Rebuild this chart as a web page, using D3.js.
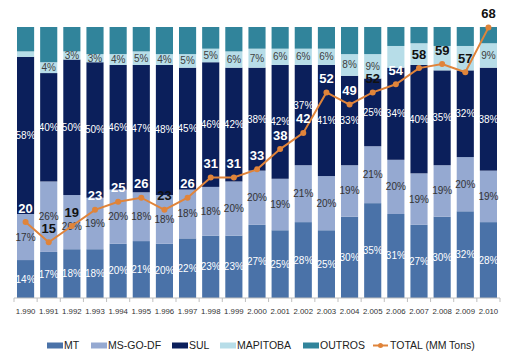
<!DOCTYPE html>
<html><head><meta charset="utf-8">
<script src="https://cdn.jsdelivr.net/npm/d3@7/dist/d3.min.js"></script>
<style>body{margin:0;background:#fff;}svg{display:block;font-family:"Liberation Sans",Arial,sans-serif;}</style>
</head><body><svg id="c" width="520" height="358"></svg>
<script>
const years = ["1.990","1.991","1.992","1.993","1.994","1.995","1.996","1.997","1.998","1.999","2.000","2.001","2.002","2.003","2.004","2.005","2.006","2.007","2.008","2.009","2.010"];
const MT       = [14,17,18,18,20,21,20,22,23,23,27,25,28,25,30,35,31,27,30,32,28];
const MSGODF   = [17,26,20,19,20,18,18,18,18,20,20,19,21,20,19,21,20,19,19,20,19];
const SUL      = [58,40,50,50,46,47,48,45,46,42,38,42,37,41,33,25,34,40,35,32,38];
const MAPITOBA = [2,4,3,3,4,5,4,5,5,6,7,6,6,6,8,9,8,8,9,9,9];
const OUTROS   = [9,13,9,10,10,9,10,10,8,9,8,8,8,8,10,10,7,6,7,7,6];
const TOTAL    = [20,15,19,23,25,26,23,26,31,31,33,38,42,52,49,52,54,58,59,57,68];
const hiddenMapitobaLabels = ["1.990","2.006","2.007","2.008","2.009"];
const seriesNames = ["MT","MS-GO-DF","SUL","MAPITOBA","OUTROS"];
const seriesData = [MT, MSGODF, SUL, MAPITOBA, OUTROS];
const colors = ["#4a72a8","#95a9d1","#0b1f5b","#b7dde8","#31849b"];
const labelColors = ["#ffffff","#333333","#ffffff","#404040",null];
const lineColor = "#e0843a";

const svg = d3.select("#c");
const x = d3.scaleBand().domain(years).range([14, 500]).paddingInner(0.26).paddingOuter(0.13);
const y = d3.scaleLinear().domain([0, 100]).range([298, 27]);
const y2 = d3.scaleLinear().domain([0, 70]).range([303, 19.5]);
const totalLabelY = v => y2(v) - 13;

const rows = years.map((yr, i) => {
  const r = {year: yr};
  seriesNames.forEach((s, k) => r[s] = seriesData[k][i]);
  return r;
});
const stack = d3.stack().keys(seriesNames)(rows);

// bars
stack.forEach((layer, k) => {
  svg.append("g").selectAll("rect").data(layer).join("rect")
    .attr("x", d => x(d.data.year))
    .attr("width", x.bandwidth())
    .attr("y", d => y(d[1]))
    .attr("height", d => y(d[0]) - y(d[1]))
    .attr("fill", colors[k]);
});

// percent labels (nudged away when they collide with the total label)
stack.forEach((layer, k) => {
  if (!labelColors[k]) return;
  svg.append("g").selectAll("text").data(layer.filter(d => !(seriesNames[k] === "MAPITOBA" && hiddenMapitobaLabels.includes(d.data.year))))
    .join("text")
    .attr("x", d => x(d.data.year) + x.bandwidth() / 2)
    .attr("y", d => {
      let ly = (y(d[0]) + y(d[1])) / 2;
      const t = totalLabelY(TOTAL[years.indexOf(d.data.year)]);
      if (seriesNames[k] === "SUL" && Math.abs(ly - t) < 12 && t < y(d[0]) && t > y(d[1])) ly = t - 14;
      if (seriesNames[k] === "MS-GO-DF" && Math.abs(ly - t) < 12) ly = t + 13.5;
      return ly;
    })
    .attr("dy", "0.35em")
    .attr("text-anchor", "middle")
    .attr("font-size", 10)
    .attr("fill", labelColors[k])
    .text(d => (d[1] - d[0]) + "%");
});

// x axis
const ax = svg.append("g").attr("transform", "translate(0,298)");
ax.append("line").attr("x1", 14).attr("x2", 500).attr("stroke", "#bfbfbf");
const bounds = d3.range(years.length + 1).map(i => 14 + i * x.step());
ax.selectAll("line.t").data(bounds).join("line").attr("class", "t")
  .attr("x1", d => d).attr("x2", d => d).attr("y1", 0).attr("y2", 4).attr("stroke", "#bfbfbf");
ax.selectAll("text").data(years).join("text")
  .attr("x", d => x(d) + x.bandwidth() / 2)
  .attr("y", 13)
  .attr("dy", "0.35em")
  .attr("text-anchor", "middle")
  .attr("font-size", 7.8)
  .attr("fill", "#333")
  .text(d => d);

// line
const line = d3.line().x((d, i) => x(years[i]) + x.bandwidth() / 2).y(d => y2(d));
svg.append("path").datum(TOTAL).attr("d", line).attr("fill", "none").attr("stroke", lineColor).attr("stroke-width", 2);
svg.append("g").selectAll("circle").data(TOTAL).join("circle")
  .attr("cx", (d, i) => x(years[i]) + x.bandwidth() / 2)
  .attr("cy", d => y2(d)).attr("r", 3).attr("fill", lineColor);

// total labels: white when over SUL segment
const sulLayer = stack[2];
svg.append("g").selectAll("text").data(TOTAL).join("text")
  .attr("x", (d, i) => x(years[i]) + x.bandwidth() / 2)
  .attr("y", d => totalLabelY(d) - 1)
  .attr("dy", "0.35em")
  .attr("text-anchor", "middle")
  .attr("font-size", 13)
  .attr("font-weight", "bold")
  .attr("fill", (d, i) => {
    const ly = totalLabelY(d);
    const s = sulLayer[i];
    return (ly > y(s[1]) + 3 && ly < y(s[0])) ? "#ffffff" : "#111111";
  })
  .text(d => d);

// legend
const legendItems = seriesNames.concat(["TOTAL (MM Tons)"]);
const legendX = [47, 91, 172, 220, 303, 373];
const lg = svg.append("g").attr("transform", "translate(0,345.5)");
legendItems.forEach((name, k) => {
  const g = lg.append("g").attr("transform", `translate(${legendX[k]},0)`);
  if (k < 5) {
    g.append("rect").attr("x", 0).attr("y", -3).attr("width", 16).attr("height", 6).attr("fill", colors[k]);
  } else {
    g.append("line").attr("x1", 0).attr("x2", 15).attr("stroke", lineColor).attr("stroke-width", 2);
    g.append("circle").attr("cx", 7.5).attr("r", 2.5).attr("fill", lineColor);
  }
  g.append("text").attr("x", 17).attr("dy", "0.35em").attr("font-size", 10.5).attr("fill", "#222").text(name);
});
</script></body></html>
